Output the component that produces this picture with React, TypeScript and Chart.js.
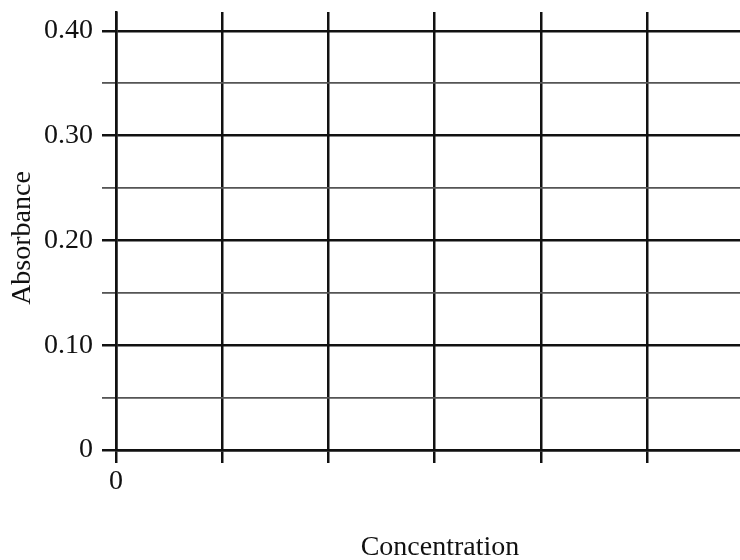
import { useEffect, useRef } from "react";
import { Chart, registerables } from "chart.js";

Chart.register(...registerables);

// ---- data ----
const xTitle = "Concentration";
const yTitle = "Absorbance";
const xLabeledTicks = [0];
const xTickLabels = ["0"];
const yMajorTicks = [0, 0.1, 0.2, 0.3, 0.4];
const yTickLabels = ["0", "0.10", "0.20", "0.30", "0.40"];
const absorbancePoints: { x: number; y: number }[] = [];
const X_MIN = 0;
const X_MAX = 6.1;
const X_STEP = 1;
const Y_MIN = 0;
const Y_MAX = 0.418;
const Y_STEP = 0.05;

const FONT_FAMILY = "'Liberation Serif', 'Times New Roman', serif";

const near = (a: number, b: number) => Math.abs(a - b) < 1e-6;

export default function App() {
  const ref = useRef<HTMLCanvasElement | null>(null);

  useEffect(() => {
    document.body.style.margin = "0";
    if (!ref.current) return;
    const chart = new Chart(ref.current, {
      type: "scatter",
      data: {
        datasets: [
          {
            label: yTitle,
            data: absorbancePoints,
            pointRadius: 0,
          },
        ],
      },
      options: {
        animation: false,
        responsive: true,
        maintainAspectRatio: false,
        devicePixelRatio: 1,
        layout: { padding: { top: 12, left: 0, right: 0, bottom: 0 } },
        plugins: {
          legend: { display: false },
          tooltip: { enabled: false },
        },
        scales: {
          x: {
            type: "linear",
            min: X_MIN,
            max: X_MAX,
            afterFit: (s: any) => {
              s.height = 110;
              s.paddingLeft = 0;
              s.paddingRight = 0;
            },
            ticks: {
              stepSize: X_STEP,
              includeBounds: false,
              padding: 2,
              maxRotation: 0,
              autoSkip: false,
              color: "#111",
              font: { family: FONT_FAMILY, size: 28, lineHeight: 1.2 },
              callback: (v: any) => {
                const i = xLabeledTicks.findIndex((t) => near(t, Number(v)));
                return i >= 0 ? xTickLabels[i] : "";
              },
            },
            grid: {
              color: "#111",
              lineWidth: 2.5,
              tickLength: 13,
              drawTicks: true,
            },
            border: { display: true, color: "#111", width: 2.5 },
            title: {
              display: true,
              text: xTitle,
              color: "#111",
              font: { family: FONT_FAMILY, size: 28, lineHeight: 0.9 },
              padding: { top: 0, bottom: 0 },
            },
          },
          y: {
            type: "linear",
            min: Y_MIN,
            max: Y_MAX,
            afterFit: (s: any) => {
              s.width = 116;
              s.paddingTop = 0;
              s.paddingBottom = 0;
            },
            ticks: {
              stepSize: Y_STEP,
              includeBounds: false,
              padding: 9,
              autoSkip: false,
              color: "#111",
              font: { family: FONT_FAMILY, size: 28, lineHeight: 1.2 },
              callback: (v: any) => {
                const i = yMajorTicks.findIndex((t) => near(t, Number(v)));
                return i >= 0 ? yTickLabels[i] : "";
              },
            },
            grid: {
              color: (ctx: any) =>
                yMajorTicks.some((t) => near(t, ctx.tick?.value)) ? "#111" : "#555",
              lineWidth: (ctx: any) =>
                yMajorTicks.some((t) => near(t, ctx.tick?.value)) ? 2.5 : 1.8,
              tickLength: 14,
              drawTicks: true,
            },
            border: { display: true, color: "#111", width: 2.5 },
            title: {
              display: true,
              text: yTitle + "  ",
              color: "#111",
              font: { family: FONT_FAMILY, size: 28, lineHeight: 1.2 },
              padding: { top: 6, bottom: 0 },
            },
          },
        },
      },
    });
    return () => chart.destroy();
  }, []);

  return (
    <div style={{ width: 740, height: 560, overflow: "hidden", background: "#fff" }}>
      <div style={{ width: 764, height: 560, position: "relative" }}>
        <canvas ref={ref} />
      </div>
    </div>
  );
}
